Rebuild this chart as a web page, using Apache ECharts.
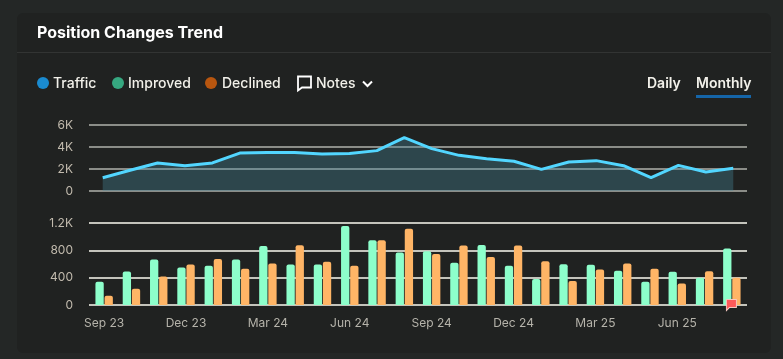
<!DOCTYPE html>
<html>
<head>
<meta charset="utf-8">
<style>html,body{margin:0;padding:0;background:#242726;overflow:hidden}#c{width:783px;height:359px}</style>
<script src="https://cdn.jsdelivr.net/npm/echarts@6/dist/echarts.min.js"></script>
</head>
<body>
<div id="c"></div>
<script>
const categories = ['Sep 23','Oct 23','Nov 23','Dec 23','Jan 24','Feb 24','Mar 24','Apr 24','May 24','Jun 24','Jul 24','Aug 24','Sep 24','Oct 24','Nov 24','Dec 24','Jan 25','Feb 25','Mar 25','Apr 25','May 25','Jun 25','Jul 25','Aug 25'];
const traffic = [1210,1880,2550,2300,2550,3450,3500,3500,3360,3400,3670,4850,3850,3240,2940,2700,1970,2640,2760,2300,1210,2330,1730,2060];
const improved = [340,490,665,550,573,665,865,593,593,1156,947,768,787,617,879,573,379,598,588,500,340,486,398,826];
const declined = [136,238,418,593,675,530,607,874,632,573,947,1117,748,870,704,870,641,350,520,607,530,316,495,398];
const noteMonth = 'Aug 25';
const trafficTicks = {min:0,max:6000,interval:2000};
const changeTicks = {min:0,max:1200,interval:400};

const font = 'Inter';
const kFmt = v => v >= 1000 ? (v/1000) + 'K' : String(v);
const dot = (x,c) => ({type:'circle',shape:{cx:x,cy:83,r:6},style:{fill:c},silent:true});
const txt = (x,y,t,o) => ({type:'text',x,y,style:Object.assign({text:t,fill:'#f2f1ea',font:'500 14px '+font,textVerticalAlign:'middle'},o||{}),silent:true});

const chart = echarts.init(document.getElementById('c'),null,{renderer:'canvas'});
chart.setOption({
  animation:false,
  backgroundColor:'#242726',
  graphic:[
    {type:'rect',z:-10,shape:{x:17,y:13,width:754,height:340,r:6},style:{fill:'#202221'},silent:true},
    {type:'rect',z:-9,shape:{x:17,y:52,width:754,height:1},style:{fill:'#323433'},silent:true},
    txt(37,33,'Position Changes Trend',{fill:'#ffffff',font:'700 16px '+font}),
    dot(43,'#1a8bd0'),txt(53,84,'Traffic'),
    dot(118,'#36a880'),txt(128,84,'Improved'),
    dot(211,'#b8560f'),txt(222,84,'Declined'),
    {type:'polygon',shape:{points:[[298,76.5],[311,76.5],[311,87.5],[302,87.5],[298,90.5]]},style:{fill:'none',stroke:'#ffffff',lineWidth:1.8},silent:true},
    txt(316,84,'Notes'),
    {type:'polyline',shape:{points:[[363,81.5],[367.5,86],[372,81.5]]},style:{fill:'none',stroke:'#ffffff',lineWidth:2},silent:true},
    txt(647,84,'Daily',{font:'600 14px '+font}),
    txt(696,84,'Monthly',{font:'600 14px '+font}),
    {type:'rect',shape:{x:696,y:95,width:55,height:3},style:{fill:'#1565a8'},silent:true}
  ],
  grid:[
    {left:89,width:658,top:125,height:66},
    {left:90.5,width:655,top:223,height:82},
    {left:89,width:658,top:223,height:82}
  ],
  xAxis:[
    {type:'category',gridIndex:0,data:categories,show:false},
    {type:'category',gridIndex:1,data:categories,
      axisLine:{show:false},axisTick:{show:false},
      axisLabel:{interval:2,color:'#b5b3aa',fontFamily:font,fontSize:12,margin:12}},
    {type:'category',gridIndex:2,data:categories,show:false}
  ],
  yAxis:[
    {type:'value',gridIndex:0,min:trafficTicks.min,max:trafficTicks.max,interval:trafficTicks.interval,
      axisLine:{show:false},axisTick:{show:false},
      axisLabel:{formatter:kFmt,color:'#c2bbae',fontFamily:font,fontSize:12,margin:16},
      splitLine:{show:true,lineStyle:{color:'#8b8d88',width:2}}},
    {type:'value',gridIndex:1,min:changeTicks.min,max:changeTicks.max,interval:changeTicks.interval,show:false,splitLine:{show:false}},
    {type:'value',gridIndex:2,min:changeTicks.min,max:changeTicks.max,interval:changeTicks.interval,
      axisLine:{show:false},axisTick:{show:false},
      axisLabel:{formatter:kFmt,color:'#c2bbae',fontFamily:font,fontSize:12,margin:16},
      splitLine:{show:true,lineStyle:{color:'#c4c4bc',width:2}}}
  ],
  series:[
    {name:'Traffic',type:'line',xAxisIndex:0,yAxisIndex:0,data:traffic,symbol:'none',
      lineStyle:{color:'#52d6ff',width:3},areaStyle:{color:'rgba(72,136,156,0.5)'},z:3},
    {name:'Improved',type:'bar',xAxisIndex:1,yAxisIndex:1,data:improved,barWidth:8.3,barGap:'10%',
      itemStyle:{color:'#8dffcb',borderRadius:[2,2,0,0]},z:3},
    {name:'Declined',type:'bar',xAxisIndex:1,yAxisIndex:1,data:declined,barWidth:8.3,barGap:'10%',
      itemStyle:{color:'#ffb566',borderRadius:[2,2,0,0]},z:3,
      markPoint:{silent:true,animation:false,z:6,
        symbol:'path://M0 0H10V8H3L0 11Z',symbolSize:[10,11],
        symbolOffset:[-5,0],
        itemStyle:{color:'#ff5a5a',borderColor:'#f7c9c0',borderWidth:1},
        label:{show:false},
        data:[{coord:[noteMonth,0]}]}}
  ]
});
</script>
</body>
</html>
